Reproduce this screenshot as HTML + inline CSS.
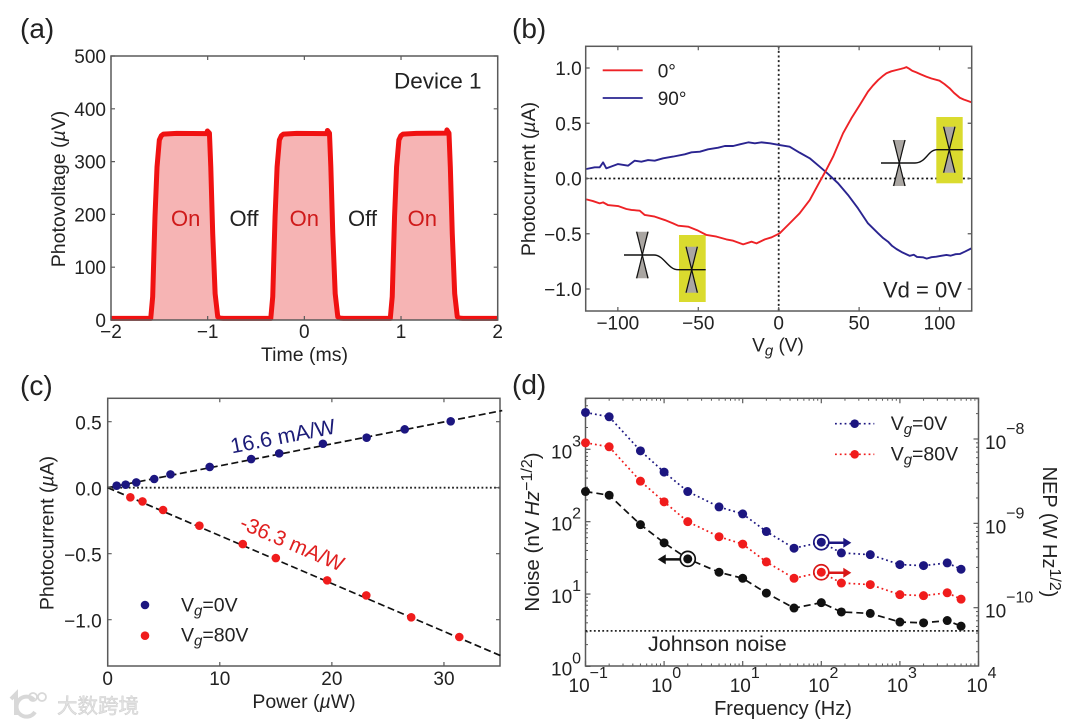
<!DOCTYPE html>
<html lang="en">
<head>
<meta charset="utf-8">
<title>Photodetector characterisation figure</title>
<style>
html,body{margin:0;padding:0;background:#fff;width:1080px;height:724px;overflow:hidden}
svg{display:block;filter:blur(.35px)}
text{font-family:"Liberation Sans","Noto Sans CJK SC",sans-serif;fill:#222;font-size:19px}
.pl{font-size:28px}
.it{font-style:italic}
.ttl{font-size:19.5px}
</style>
</head>
<body>
<svg id="fig" width="1080" height="724" viewBox="0 0 1080 724" xmlns="http://www.w3.org/2000/svg">
  <g id="panel-a">
    <text class="pl" x="20" y="38">(a)</text>
    <text class="ttl" x="304.5" y="361" text-anchor="middle">Time (ms)</text>
    <text class="ttl" transform="translate(65,189) rotate(-90)" text-anchor="middle">Photovoltage (<tspan class="it">µ</tspan>V)</text>
  </g>
  <g id="panel-b">
    <text class="pl" x="512" y="38">(b)</text>
    <text x="778" y="351.5" text-anchor="middle">V<tspan class="it" dy="4" font-size="15">g</tspan><tspan dy="-4"> (V)</tspan></text>
    <text class="ttl" transform="translate(535,179) rotate(-90)" text-anchor="middle">Photocurrent (<tspan class="it">µ</tspan>A)</text>
  </g>
  <g id="panel-c">
    <text class="pl" x="20" y="395">(c)</text>
    <text class="ttl" x="304" y="708" text-anchor="middle">Power (<tspan class="it">µ</tspan>W)</text>
    <text class="ttl" transform="translate(53.5,533) rotate(-90)" text-anchor="middle">Photocurrent (<tspan class="it">µ</tspan>A)</text>
  </g>
  <g id="panel-d">
    <text class="pl" x="512" y="394">(d)</text>
    <text x="783" y="715" text-anchor="middle" style="font-size:20px">Frequency (Hz)</text>
    <text transform="translate(539,532) rotate(-90)" text-anchor="middle" style="font-size:20.5px">Noise (nV <tspan class="it">Hz</tspan><tspan dy="-7" font-size="16">−1/2</tspan><tspan dy="7">)</tspan></text>
    <text transform="translate(1043,532) rotate(90)" text-anchor="middle" style="font-size:20px">NEP (W Hz<tspan dy="-7" font-size="16">1/2</tspan><tspan dy="7">)</tspan></text>
  </g>
  <g id="watermark">
    <path d="M11 699 L16 694 L16 715 M34 700 A10 10 0 1 0 35 712" fill="none" stroke="#d8d8d8" stroke-width="4"/>
    <circle cx="33" cy="697" r="4" fill="none" stroke="#d8d8d8" stroke-width="1.8"/>
    <circle cx="42" cy="697" r="4" fill="none" stroke="#d8d8d8" stroke-width="1.8"/>
    <text x="57" y="713" style="font-size:20.5px;fill:#e2e2e2;stroke:#cfcfcf;stroke-width:.5px;font-family:'Liberation Sans','Noto Sans CJK SC',sans-serif">大数跨境</text>
  </g>
</svg>
<script>
// ---------- panel (a) data: time (ms) and photovoltage (uV) ----------
const aTime = [-2,-1.589,-1.569,-1.545,-1.524,-1.5,-1.48,-1.458,-1.32,-1.01,-1.003,-0.982,-0.968,-0.948,-0.923,-0.896,-0.87,-0.837,
  -0.347,-0.327,-0.303,-0.282,-0.258,-0.238,-0.216,-0.078,0.232,0.239,0.26,0.274,0.294,0.319,0.346,0.372,0.405,
  0.889,0.909,0.933,0.954,0.978,0.998,1.02,1.158,1.468,1.475,1.496,1.51,1.53,1.555,1.582,1.608,1.641,2];
const aVolt = [3,3,44,196,290,341,349,352,353.5,353,358,354,290,164,50,6,3.5,3,
  3,44,196,290,341,349,352,353.5,353,359,354,290,164,50,6,3.5,3,
  3,44,196,290,341,349,352,353.5,354,360,354,290,164,50,6,3.5,3,3];
const aXTicks = [-2,-1,0,1,2];
const aXLabels = ['−2','−1','0','1','2'];
const aYTicks = [0,100,200,300,400,500];
const aYLabels = ['0','100','200','300','400','500'];

// ---------- panel (b) data: gate voltage (V) and photocurrent (uA) ----------
const bRedV = [-119.6,-115.5,-111.3,-109.2,-106.2,-99.9,-94.7,-91.6,-86.4,-83.3,-77.1,-70.8,-65.7,-62.5,-56.3,-50.1,-44.9,-38.7,-32.5,-28.3,-22.1,-16.9,-13.8,-8.6,-4.4,0.6,6.8,13,19.3,25.5,29,33.8,40,45.2,50.4,55.5,58.5,61.8,64.5,67,70,73.2,76,78,79.4,81,83,85.6,88,91.9,95,100,103,106.3,109,112.6,115,117,119.8];
const bRedI = [-0.189,-0.204,-0.225,-0.216,-0.24,-0.249,-0.276,-0.285,-0.291,-0.33,-0.345,-0.376,-0.406,-0.427,-0.436,-0.472,-0.511,-0.526,-0.551,-0.563,-0.596,-0.572,-0.587,-0.551,-0.532,-0.496,-0.406,-0.315,-0.195,-0.029,0.062,0.197,0.409,0.545,0.665,0.786,0.84,0.891,0.925,0.952,0.97,0.982,0.992,1.0,1.008,0.995,0.975,0.96,0.945,0.921,0.905,0.885,0.855,0.816,0.775,0.731,0.715,0.705,0.69];
const bBlueV = [-119.6,-114.4,-111.3,-109.2,-107.2,-99.9,-93.6,-89.6,-85.4,-81.2,-77.1,-71.9,-65.7,-58.4,-54.2,-49,-43.9,-37.6,-33.5,-28.3,-24.1,-18.9,-14.8,-10.6,-5.4,0.6,6.8,13,19.3,25.5,30.7,36.9,43.1,49.3,55.5,61.8,65,68,70.5,73.2,77,81.5,84,86,89.7,92,95,98,101,104.3,107,110,112.6,116,119.8];
const bBlueI = [0.086,0.101,0.101,0.146,0.092,0.131,0.116,0.161,0.152,0.167,0.161,0.183,0.198,0.219,0.237,0.243,0.264,0.279,0.294,0.294,0.309,0.327,0.318,0.327,0.318,0.303,0.288,0.234,0.183,0.107,0.041,-0.043,-0.149,-0.27,-0.406,-0.496,-0.54,-0.572,-0.61,-0.638,-0.67,-0.7,-0.69,-0.71,-0.713,-0.725,-0.712,-0.708,-0.7,-0.692,-0.698,-0.685,-0.683,-0.66,-0.632];
const bXTicks = [-100,-50,0,50,100];
const bXLabels = ['−100','−50','0','50','100'];
const bYTicks = [-1,-0.5,0,0.5,1];
const bYLabels = ['−1.0','−0.5','0.0','0.5','1.0'];

// ---------- panel (c) data: power (uW) and photocurrent (uA) ----------
const cBlueP = [0.8,1.6,2.55,4.15,5.6,9.1,12.8,15.3,19.2,23.1,26.5,30.6];
const cBlueI = [0.015,0.023,0.04,0.066,0.101,0.157,0.217,0.26,0.333,0.379,0.442,0.503];
const cRedP = [2.02,3.1,4.94,8.18,12.05,15,19.58,23.07,27.08,31.37];
const cRedI = [-0.073,-0.104,-0.169,-0.288,-0.427,-0.533,-0.702,-0.816,-0.982,-1.131];
const cBlueSlope = 16.6;
const cRedSlope = -36.3;
const cXTicks = [0,10,20,30];
const cXLabels = ['0','10','20','30'];
const cYTicks = [-1,-0.5,0,0.5];
const cYLabels = ['−1.0','−0.5','0.0','0.5'];

// ---------- panel (d) data: frequency (Hz) and noise (nV/rtHz) ----------
const dFreq = [0.1,0.2,0.5,1,2,5,10,20,45,100,180,420,1000,2000,4000,6000];
const dBlue = [3230,2815,953,484,261,160,128,73,43,52,37,35,25.5,24.7,26.9,22];
const dRed = [1230,1083,363,188,100,62,49,27.8,16.5,20,14.2,13.5,9.8,9.5,10.4,8.5];
const dBlack = [261,232,91,51,30.6,20,16.5,10.3,6.4,7.6,5.65,5.4,4.1,4,4.3,3.6];
const dJohnson = 3.1;
const dXDecades = [-1,0,1,2,3,4];
const dYDecades = [0,1,2,3];
const dRightDecades = [-10,-9,-8];

// ---------- palette ----------
const NAVY = '#1c1680', RED = '#f01c1c', BLACK = '#111', SPINE = '#5a5a5a';

const NS = 'http://www.w3.org/2000/svg';
function add(parent, tag, attrs, name, txt) {
  const el = document.createElementNS(NS, tag);
  for (const k in attrs) el.setAttribute(k, attrs[k]);
  
  
  if (txt !== undefined) el.textContent = txt;
  parent.appendChild(el);
  return el;
}
const linear = (d0, d1, r0, r1) => v => r0 + (v - d0) * (r1 - r0) / (d1 - d0);
const pathOf = (xs, ys, sx, sy) => xs.map((x, i) => (i ? 'L' : 'M') + sx(x).toFixed(2) + ' ' + sy(ys[i]).toFixed(2)).join(' ');

function frame(g, box, prefix) {
  add(g, 'rect', {x: box.l, y: box.t, width: box.r - box.l, height: box.b - box.t, fill: 'none', stroke: SPINE, 'stroke-width': 1.5}, prefix + '-plot-frame');
}
function xTicks(g, box, ticks, labels, sx, baseline, prefix) {
  ticks.forEach((t, i) => {
    const x = sx(t);
    add(g, 'path', {d: `M${x} ${box.b} v-4 M${x} ${box.t} v4`, stroke: SPINE, 'stroke-width': 1.2, fill: 'none'}, prefix + '-x-tick');
    add(g, 'text', {x: x, y: baseline, 'text-anchor': 'middle'}, prefix + '-x-tick-label', labels[i]);
  });
}
function yTicks(g, box, ticks, labels, sy, right, dy, prefix) {
  ticks.forEach((t, i) => {
    const y = sy(t);
    add(g, 'path', {d: `M${box.l} ${y} h4 M${box.r} ${y} h-4`, stroke: SPINE, 'stroke-width': 1.2, fill: 'none'}, prefix + '-y-tick');
    add(g, 'text', {x: right, y: y + dy, 'text-anchor': 'end'}, prefix + '-y-tick-label', labels[i]);
  });
}
function hourglass(g, cx, cy, w, h, name) {
  const x0 = cx - w / 2, x1 = cx + w / 2, y0 = cy - h / 2, y1 = cy + h / 2;
  add(g, 'path', {d: `M${x0} ${y0} H${x1} L${x0} ${y1} H${x1} Z`, fill: '#aaa6a2', stroke: 'none'}, name + '-fill');
  add(g, 'path', {d: `M${x0 + 1} ${y0} L${x1 - 1} ${y1} M${x1 - 1} ${y0} L${x0 + 1} ${y1}`, stroke: '#111', 'stroke-width': 1.2, fill: 'none'}, name + '-edges');
}

// ================= Panel (a) =================
(function () {
  const g = document.getElementById('panel-a');
  const box = {l: 111, r: 497.7, t: 56, b: 320};
  const sx = linear(-2, 2, box.l, box.r), sy = linear(0, 500, box.b, box.t);
  const line = pathOf(aTime, aVolt, sx, sy);
  add(g, 'path', {d: line + ` L${box.r} ${box.b} L${box.l} ${box.b} Z`, fill: '#f6b4b4', stroke: 'none'}, 'on-state-fill');
  add(g, 'path', {d: line, fill: 'none', stroke: '#f01212', 'stroke-width': 5, 'stroke-linejoin': 'round'}, 'photovoltage-trace');
  frame(g, box, 'a');
  xTicks(g, box, aXTicks, aXLabels, sx, 338, 'a');
  yTicks(g, box, aYTicks, aYLabels, sy, 106, 7, 'a');
  add(g, 'text', {x: 394, y: 88.5, style: 'font-size:22.5px'}, 'device-label', 'Device 1');
  [185.7, 304.3, 422.3].forEach(x => {
    add(g, 'text', {x: x, y: 226, 'text-anchor': 'middle', style: 'font-size:22px;fill:#cf1a1a'}, 'on-label', 'On');
  });
  [244, 362.5].forEach(x => {
    add(g, 'text', {x: x, y: 226, 'text-anchor': 'middle', style: 'font-size:22px'}, 'off-label', 'Off');
  });
})();

// ================= Panel (b) =================
(function () {
  const g = document.getElementById('panel-b');
  const box = {l: 585.7, r: 971.7, t: 46.3, b: 311};
  const sx = linear(-120, 120, box.l, box.r), sy = linear(0, 1, 178.5, 68);
  add(g, 'path', {d: `M${box.l} ${sy(0)} H${box.r}`, stroke: '#111', 'stroke-width': 1.8, 'stroke-dasharray': '2 2.6', fill: 'none'}, 'zero-current-line');
  add(g, 'path', {d: `M${sx(0)} ${box.t} V${box.b}`, stroke: '#222', 'stroke-width': 1.8, 'stroke-dasharray': '2 2.6', fill: 'none'}, 'zero-gate-line');
  // insets
  add(g, 'rect', {x: 679, y: 235, width: 26.7, height: 67, fill: '#dadb2e'}, 'inset-left-highlight');
  hourglass(g, 642.3, 255, 13.3, 46.6, 'inset-left-device-1');
  hourglass(g, 691.7, 269.7, 13.3, 46, 'inset-left-device-2');
  add(g, 'path', {d: 'M624 255 H654 C664 255 668 269.7 678 269.7 H705.7', fill: 'none', stroke: '#111', 'stroke-width': 1.4}, 'inset-left-band');
  add(g, 'rect', {x: 936.3, y: 117, width: 26.4, height: 66.3, fill: '#dadb2e'}, 'inset-right-highlight');
  hourglass(g, 899.3, 163, 13.3, 46, 'inset-right-device-1');
  hourglass(g, 949.3, 149.7, 13.3, 46, 'inset-right-device-2');
  add(g, 'path', {d: 'M881 163 H915 C926 163 928 149.7 937 149.7 H963.3', fill: 'none', stroke: '#111', 'stroke-width': 1.4}, 'inset-right-band');
  add(g, 'path', {d: pathOf(bBlueV, bBlueI, sx, sy), fill: 'none', stroke: '#2a2490', 'stroke-width': 1.9, 'stroke-linejoin': 'round'}, 'curve-90-deg');
  add(g, 'path', {d: pathOf(bRedV, bRedI, sx, sy), fill: 'none', stroke: '#ee2226', 'stroke-width': 1.9, 'stroke-linejoin': 'round'}, 'curve-0-deg');
  frame(g, box, 'b');
  xTicks(g, box, bXTicks, bXLabels, sx, 329.5, 'b');
  yTicks(g, box, bYTicks, bYLabels, sy, 581.7, 7, 'b');
  add(g, 'path', {d: 'M602.7 70.3 H642.7', stroke: '#ee2226', 'stroke-width': 1.8, fill: 'none'}, 'legend-line-0-deg');
  add(g, 'path', {d: 'M602.7 98 H642.7', stroke: '#2a2490', 'stroke-width': 1.8, fill: 'none'}, 'legend-line-90-deg');
  add(g, 'text', {x: 657.7, y: 77.3}, 'legend-label-0-deg', '0°');
  add(g, 'text', {x: 657.7, y: 105}, 'legend-label-90-deg', '90°');
  add(g, 'text', {x: 883, y: 297.7, style: 'font-size:22px'}, 'drain-voltage-label', 'Vd = 0V');
})();

// ================= Panel (c) =================
(function () {
  const g = document.getElementById('panel-c');
  const box = {l: 107.7, r: 500, t: 398.3, b: 666};
  const sx = linear(0, 35, box.l, box.r), sy = linear(0, 0.5, 487.7, 421.7);
  add(g, 'path', {d: `M${box.l} ${sy(0)} H${box.r}`, stroke: '#222', 'stroke-width': 1.8, 'stroke-dasharray': '1.8 2.4', fill: 'none'}, 'zero-line');
  frame(g, box, 'c');
  const dash = {fill: 'none', stroke: '#111', 'stroke-width': 1.7, 'stroke-dasharray': '7 3.5'};
  add(g, 'path', Object.assign({d: pathOf([0, 35.2], [0, cBlueSlope * 35.2 / 1000], sx, sy)}, dash), 'fit-line-vg-0v');
  add(g, 'path', Object.assign({d: pathOf([0, 35.2], [0, cRedSlope * 35.2 / 1000], sx, sy)}, dash), 'fit-line-vg-80v');
  cBlueP.forEach((p, i) => {
    add(g, 'circle', {cx: sx(p), cy: sy(cBlueI[i]), r: 4.3, fill: NAVY}, 'point-vg-0v');
  });
  cRedP.forEach((p, i) => {
    add(g, 'circle', {cx: sx(p), cy: sy(cRedI[i]), r: 4.3, fill: RED}, 'point-vg-80v');
  });
  xTicks(g, box, cXTicks, cXLabels, sx, 685, 'c');
  yTicks(g, box, cYTicks, cYLabels, sy, 101.7, 8, 'c');
  add(g, 'text', {transform: 'translate(232,453.5) rotate(-11)', style: 'font-size:21.5px;fill:#1c1c78'}, 'responsivity-label-vg-0v', cBlueSlope.toFixed(1) + ' mA/W');
  add(g, 'text', {transform: 'translate(238.5,528) rotate(23.2)', style: 'font-size:21px;fill:#e02020'}, 'responsivity-label-vg-80v', cRedSlope.toFixed(1) + ' mA/W');
  add(g, 'circle', {cx: 145, cy: 605, r: 4.3, fill: NAVY}, 'legend-marker-vg-0v');
  add(g, 'circle', {cx: 145, cy: 635.7, r: 4.3, fill: RED}, 'legend-marker-vg-80v');
  const t1 = add(g, 'text', {x: 181, y: 611.5, style: 'font-size:19.5px'}, 'legend-label-vg-0v', 'V');
  add(t1, 'tspan', {class: 'it', dy: 4, 'font-size': 15}, 'legend-subscript', 'g');
  add(t1, 'tspan', {dy: -4}, 'legend-value', '=0V');
  const t2 = add(g, 'text', {x: 181, y: 641.7, style: 'font-size:19.5px'}, 'legend-label-vg-80v', 'V');
  add(t2, 'tspan', {class: 'it', dy: 4, 'font-size': 15}, 'legend-subscript', 'g');
  add(t2, 'tspan', {dy: -4}, 'legend-value', '=80V');
})();

// ================= Panel (d) =================
(function () {
  const g = document.getElementById('panel-d');
  const box = {l: 585.5, r: 978.5, t: 398.3, b: 666};
  const lx = linear(-1, 4, box.l, box.r), ly = linear(0, 3, 666.4, 449.3), lr = linear(-10, -8, 607.7, 439);
  const sx = f => lx(Math.log10(f)), sy = n => ly(Math.log10(n));
  const inY = y => y >= box.t && y <= box.b;
  frame(g, box, 'd');
  const mults = [2, 3, 4, 5, 6, 7, 8, 9];
  dXDecades.forEach(d => {
    const x = lx(d);
    add(g, 'path', {d: `M${x} ${box.b} v-5 M${x} ${box.t} v5`, stroke: SPINE, 'stroke-width': 1.2, fill: 'none'}, 'd-x-tick');
    if (d < 4) mults.forEach(m => {
      const xm = lx(d + Math.log10(m));
      add(g, 'path', {d: `M${xm} ${box.b} v-2.5 M${xm} ${box.t} v2.5`, stroke: SPINE, 'stroke-width': 1, fill: 'none'}, 'd-x-minor-tick');
    });
    const off = d < 0 ? -17 : d === 4 ? -12 : -13;
    const t = add(g, 'text', {x: x + off, y: 692}, 'd-x-tick-label', '10');
    add(t, 'tspan', {dy: -14, 'font-size': 16}, 'd-x-tick-exponent', String(d).replace('-', '−'));
  });
  dYDecades.forEach(d => {
    const y = ly(d);
    add(g, 'path', {d: `M${box.l} ${y} h5`, stroke: SPINE, 'stroke-width': 1.2, fill: 'none'}, 'd-left-tick');
    const t = add(g, 'text', {x: 551, y: y + 9}, 'd-left-tick-label', '10');
    add(t, 'tspan', {dy: -12, 'font-size': 16}, 'd-left-tick-exponent', String(d));
    mults.forEach(m => {
      const ym = ly(d + Math.log10(m));
      if (inY(ym)) add(g, 'path', {d: `M${box.l} ${ym} h2.5`, stroke: SPINE, 'stroke-width': 1, fill: 'none'}, 'd-left-minor-tick');
    });
  });
  dRightDecades.forEach(d => {
    const y = lr(d);
    add(g, 'path', {d: `M${box.r} ${y} h-5`, stroke: SPINE, 'stroke-width': 1.2, fill: 'none'}, 'd-right-tick');
    const t = add(g, 'text', {x: 985, y: y + 10}, 'd-right-tick-label', '10');
    add(t, 'tspan', {dy: -15, 'font-size': 16}, 'd-right-tick-exponent', String(d).replace('-', '−'));
  });
  [-11, -10, -9, -8].forEach(d => {
    mults.forEach(m => {
      const ym = lr(d + Math.log10(m));
      if (inY(ym)) add(g, 'path', {d: `M${box.r} ${ym} h-2.5`, stroke: SPINE, 'stroke-width': 1, fill: 'none'}, 'd-right-minor-tick');
    });
  });
  add(g, 'path', {d: `M${box.l} ${sy(dJohnson)} H${box.r}`, stroke: '#222', 'stroke-width': 1.8, 'stroke-dasharray': '1.8 2.4', fill: 'none'}, 'johnson-noise-line');
  add(g, 'text', {x: 648, y: 651, style: 'font-size:21.5px'}, 'johnson-noise-label', 'Johnson noise');
  const dotted = {fill: 'none', 'stroke-width': 1.7, 'stroke-dasharray': '1.8 3'};
  add(g, 'path', Object.assign({d: pathOf(dFreq, dBlue, sx, sy), stroke: NAVY}, dotted), 'line-nep-vg-0v');
  add(g, 'path', Object.assign({d: pathOf(dFreq, dRed, sx, sy), stroke: RED}, dotted), 'line-nep-vg-80v');
  add(g, 'path', {d: pathOf(dFreq, dBlack, sx, sy), fill: 'none', stroke: '#111', 'stroke-width': 1.7, 'stroke-dasharray': '7 4'}, 'line-noise');
  dFreq.forEach((f, i) => {
    add(g, 'circle', {cx: sx(f), cy: sy(dBlue[i]), r: 4.5, fill: NAVY}, 'point-nep-vg-0v');
    add(g, 'circle', {cx: sx(f), cy: sy(dRed[i]), r: 4.5, fill: RED}, 'point-nep-vg-80v');
    add(g, 'circle', {cx: sx(f), cy: sy(dBlack[i]), r: 4.5, fill: BLACK}, 'point-noise');
  });
  // axis-indicator rings and arrows, anchored to the data points they mark
  function indicator(x, y, dir, color, name) {
    add(g, 'circle', {cx: x, cy: y, r: 7.5, fill: 'none', stroke: color, 'stroke-width': 1.7}, name + '-ring');
    const x0 = x + dir * 7.5, x1 = x + dir * 30;
    add(g, 'path', {d: `M${x0} ${y + 0.5} H${x1 - dir * 6}`, stroke: color, 'stroke-width': 2.5, fill: 'none'}, name + '-arrow-shaft');
    add(g, 'path', {d: `M${x1} ${y + 0.5} l${-dir * 8} -5 v10 Z`, fill: color}, name + '-arrow-head');
  }
  indicator(sx(100), sy(dBlue[9]), 1, NAVY, 'right-axis-indicator-vg-0v');
  indicator(sx(100), sy(dRed[9]), 1, '#d81818', 'right-axis-indicator-vg-80v');
  indicator(sx(2), sy(dBlack[4]), -1, BLACK, 'left-axis-indicator');
  // legend
  add(g, 'path', {d: 'M835 423.7 H874.3', stroke: NAVY, 'stroke-width': 1.7, 'stroke-dasharray': '1.8 3', fill: 'none'}, 'legend-line-vg-0v');
  add(g, 'circle', {cx: 854.7, cy: 423.7, r: 4.3, fill: NAVY}, 'legend-marker-vg-0v');
  add(g, 'path', {d: 'M835 454.3 H874.3', stroke: RED, 'stroke-width': 1.7, 'stroke-dasharray': '1.8 3', fill: 'none'}, 'legend-line-vg-80v');
  add(g, 'circle', {cx: 854.7, cy: 454.3, r: 4.3, fill: RED}, 'legend-marker-vg-80v');
  const t1 = add(g, 'text', {x: 890.7, y: 430, style: 'font-size:19.5px'}, 'legend-label-vg-0v', 'V');
  add(t1, 'tspan', {class: 'it', dy: 4, 'font-size': 15}, 'legend-subscript', 'g');
  add(t1, 'tspan', {dy: -4}, 'legend-value', '=0V');
  const t2 = add(g, 'text', {x: 890.7, y: 460.7, style: 'font-size:19.5px'}, 'legend-label-vg-80v', 'V');
  add(t2, 'tspan', {class: 'it', dy: 4, 'font-size': 15}, 'legend-subscript', 'g');
  add(t2, 'tspan', {dy: -4}, 'legend-value', '=80V');
})();
</script>
</body>
</html>
